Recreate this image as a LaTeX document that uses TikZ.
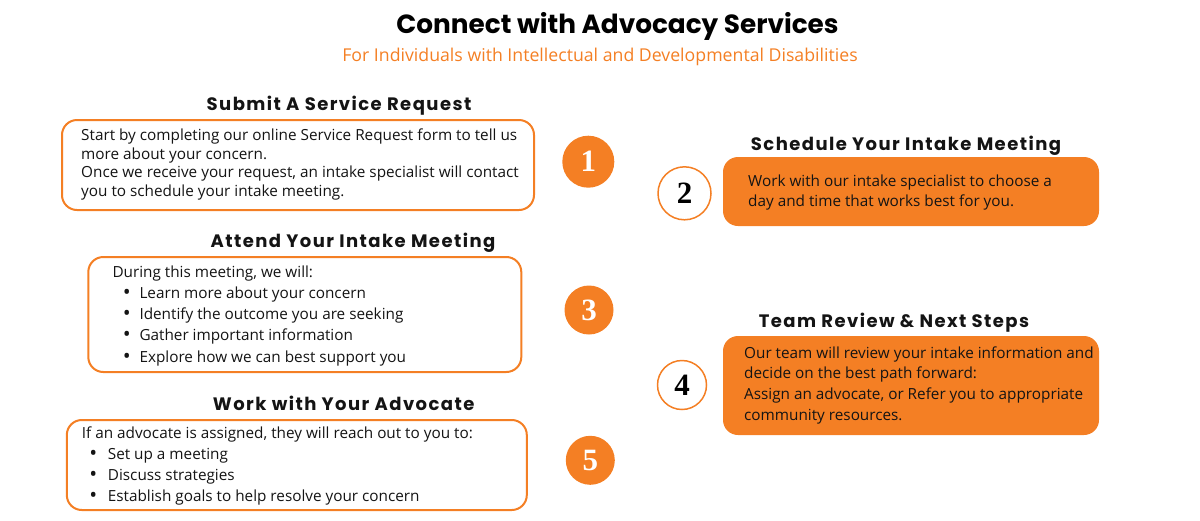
\documentclass[tikz,border=0pt]{standalone}
\usepackage{fontspec}
\setmainfont{Open Sans}
\newfontfamily\titlefont{Poppins}
\newfontfamily\headfont[LetterSpace=8]{Poppins}
\newfontfamily\numfont{Liberation Serif}
\definecolor{brand}{RGB}{244,127,36}
\definecolor{ink}{RGB}{20,20,20}
\begin{document}
\begin{tikzpicture}[x=1pt,y=-1pt,
  wbox/.style={draw=brand, line width=2pt, rounded corners=15pt, fill=white, inner sep=0},
  obox/.style={fill=brand, rounded corners=15pt, inner sep=0},
  txt/.style={anchor=base west, inner sep=0, text=ink, font=\fontsize{15.3}{18}\selectfont},
  bul/.style={anchor=base, inner sep=0, text=ink, font=\fontsize{21}{18}\selectfont},
  head/.style={anchor=base, inner sep=0, text=ink, font=\headfont\bfseries\fontsize{18}{20}\selectfont},
  numf/.style={circle, fill=brand, inner sep=0, text=white, font=\numfont\bfseries\fontsize{31}{31}\selectfont},
  numo/.style={circle, draw=brand, line width=1.5pt, fill=white, inner sep=0, text=black, font=\numfont\bfseries\fontsize{31}{31}\selectfont}
]
\useasboundingbox (0,0) rectangle (1200,520);

% title
\node[anchor=base, inner sep=0, font=\titlefont\bfseries\fontsize{26.3}{30}\selectfont] (title) at (617.5,33.3) {Connect with Advocacy Services};
\node[anchor=base, inner sep=0, text=brand, font=\fontsize{17.7}{20}\selectfont] (subtitle) at (600,61.5) {For Individuals with Intellectual and Developmental Disabilities};

% step 1
\node[head] (h1) at (339,110) {Submit A Service Request};
\node[wbox, minimum width=472pt, minimum height=90pt] (b1) at (298,165) {};
\node[txt] (b1a) at (81,140.5) {Start by completing our online Service Request form to tell us};
\node[txt] (b1b) at (81,159) {more about your concern.};
\node[txt] (b1c) at (81,177.5) {Once we receive your request, an intake specialist will contact};
\node[txt] (b1d) at (81,196) {you to schedule your intake meeting.};
\node[numf, minimum size=52pt] (n1) at (588.3,161.7) {1};

% step 2
\node[head] (h2) at (906,150) {Schedule Your Intake Meeting};
\node[obox, minimum width=376pt, minimum height=69pt] (b2) at (911,191.5) {};
\node[txt] (b2a) at (748,186.7) {Work with our intake specialist to choose a};
\node[txt] (b2b) at (748,206) {day and time that works best for you.};
\node[numo, minimum size=53pt] (n2) at (684.5,193.3) {2};

% step 3
\node[head] (h3) at (353,247.3) {Attend Your Intake Meeting};
\node[wbox, minimum width=433pt, minimum height=115pt] (b3) at (304.8,314.5) {};
\node[txt] (b3a) at (112.3,277.7) {During this meeting, we will:};
\node[bul] (b3p1) at (126.7,299.5) {•};
\node[txt] (b3b) at (139.3,298.3) {Learn more about your concern};
\node[bul] (b3p2) at (126.7,320.7) {•};
\node[txt] (b3c) at (139.3,319.5) {Identify the outcome you are seeking};
\node[bul] (b3p3) at (126.7,341.9) {•};
\node[txt] (b3d) at (139.3,340.7) {Gather important information};
\node[bul] (b3p4) at (126.7,363.2) {•};
\node[txt] (b3e) at (139.3,362) {Explore how we can best support you};
\node[numf, minimum size=49pt] (n3) at (589,310) {3};

% step 4
\node[head] (h4) at (894,327.3) {Team Review \& Next Steps};
\node[obox, minimum width=376pt, minimum height=99pt] (b4) at (911,385.5) {};
\node[txt] (b4a) at (744,358.3) {Our team will review your intake information and};
\node[txt] (b4b) at (744,378.8) {decide on the best path forward:};
\node[txt] (b4c) at (744,399.3) {Assign an advocate, or Refer you to appropriate};
\node[txt] (b4d) at (744,420) {community resources.};
\node[numo, minimum size=49pt] (n4) at (682,385) {4};

% step 5
\node[head] (h5) at (343.7,410.7) {Work with Your Advocate};
\node[wbox, minimum width=460pt, minimum height=90pt] (b5) at (296.8,465) {};
\node[txt] (b5a) at (81.7,438.3) {If an advocate is assigned, they will reach out to you to:};
\node[bul] (b5p1) at (93.3,460.5) {•};
\node[txt] (b5b) at (107.7,459.3) {Set up a meeting};
\node[bul] (b5p2) at (93.3,481.7) {•};
\node[txt] (b5c) at (107.7,480.5) {Discuss strategies};
\node[bul] (b5p3) at (93.3,502.9) {•};
\node[txt] (b5d) at (107.7,501.7) {Establish goals to help resolve your concern};
\node[numf, minimum size=49pt] (n5) at (590.3,460.3) {5};
\end{tikzpicture}
\end{document}
